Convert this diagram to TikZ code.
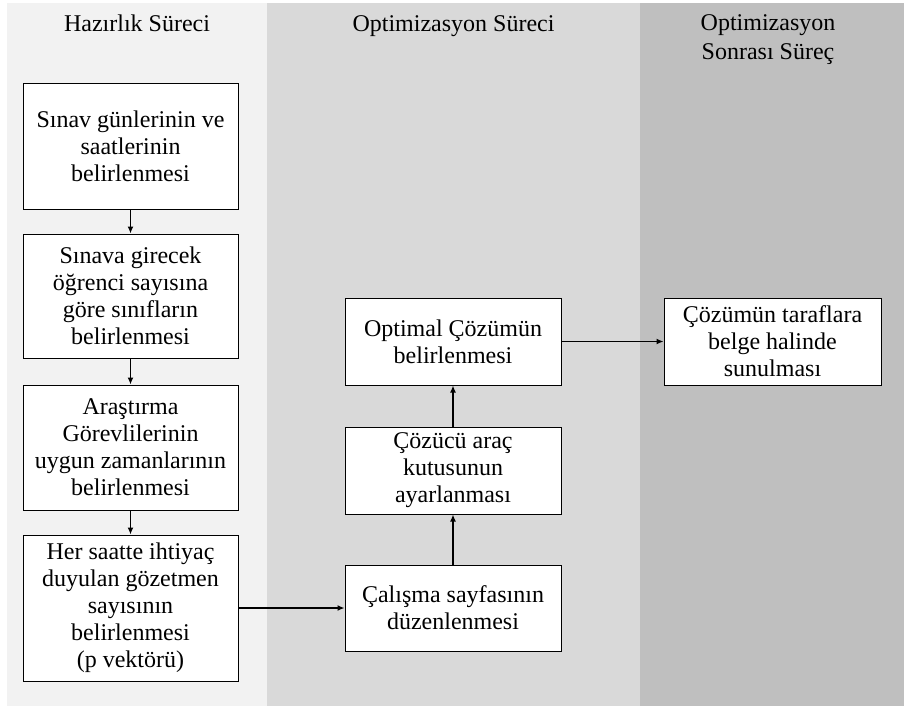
\documentclass[tikz,border=0pt]{standalone}
\usepackage{fontspec}
\setmainfont{Liberation Serif}
\usetikzlibrary{arrows.meta}
\definecolor{colA}{HTML}{F2F2F2}
\definecolor{colB}{HTML}{D9D9D9}
\definecolor{colC}{HTML}{BFBFBF}
\begin{document}
\begin{tikzpicture}[x=1pt,y=-1pt,
  stepbox/.style={draw=black, line width=1pt, fill=white, align=center, inner sep=0pt,
    font=\fontsize{24}{27}\selectfont},
  lbox/.style={stepbox, minimum width=215pt},
  mbox/.style={stepbox, minimum width=216pt},
  head/.style={align=center, inner sep=0pt, font=\fontsize{24}{29}\selectfont},
  conn/.style={line width=1.3pt, -{Latex[length=7pt,width=6pt]}}]
\useasboundingbox (0,0) rectangle (904,706);
\fill[white] (0,0) rectangle (904,706);
\fill[colA] (7,3) rectangle (267,706);
\fill[colB] (267,3) rectangle (640,706);
\fill[colC] (640,3) rectangle (904,706);

\node[head, anchor=base] (h1) at (137,32) {Hazırlık Süreci};
\node[head, anchor=base] (h2) at (453.5,32) {Optimizasyon Süreci};
\node[head] (h3) at (768,40) {Optimizasyon\\Sonrası Süreç};

\node[lbox, minimum height=125pt] (b1) at (130.5,146.5) {Sınav günlerinin ve\\saatlerinin\\belirlenmesi};
\node[lbox, minimum height=124pt] (b2) at (130.5,296) {Sınava girecek\\öğrenci sayısına\\göre sınıfların\\belirlenmesi};
\node[lbox, minimum height=125pt] (b3) at (130.5,447.5) {Araştırma\\Görevlilerinin\\uygun zamanlarının\\belirlenmesi};
\node[lbox, minimum height=146pt] (b4) at (130.5,608) {Her saatte ihtiyaç\\duyulan gözetmen\\sayısının\\belirlenmesi\\(p vektörü)};

\node[mbox, minimum height=87pt] (m1) at (453,341.5) {Optimal Çözümün\\belirlenmesi};
\node[mbox, minimum height=87pt] (m2) at (453,470.5) {Çözücü araç\\kutusunun\\ayarlanması};
\node[mbox, minimum height=86pt] (m3) at (453,608) {Çalışma sayfasının\\düzenlenmesi};

\node[stepbox, minimum width=217pt, minimum height=87pt] (r1) at (772.5,341.5) {Çözümün taraflara\\belge halinde\\sunulması};

\draw[conn] (b1) -- (b2);
\draw[conn] (b2) -- (b3);
\draw[conn] (b3) -- (b4);
\draw[conn] (b4) -- (m3);
\draw[conn] (m3) -- (m2);
\draw[conn] (m2) -- (m1);
\draw[conn] (m1) -- (r1);
\end{tikzpicture}
\end{document}
